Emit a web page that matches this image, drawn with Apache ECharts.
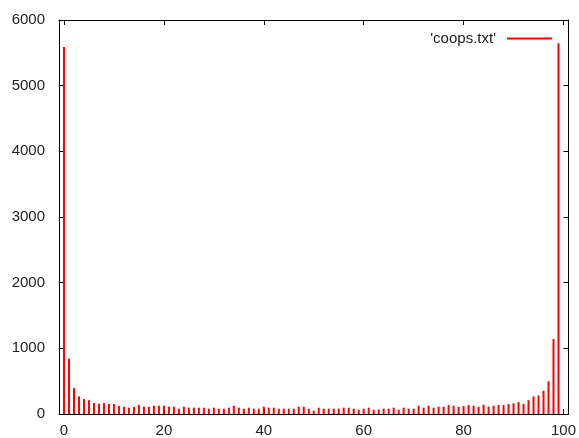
<!DOCTYPE html>
<html>
<head>
<meta charset="utf-8">
<script src="https://cdn.jsdelivr.net/npm/echarts@6/dist/echarts.min.js"></script>
<style>
html,body{margin:0;padding:0;background:#fff;}
#chart{width:579px;height:438px;}
</style>
</head>
<body>
<div id="chart"></div>
<script>
// Data (x = 0..99)
const xValues = Array.from({length: 100}, (_, i) => i);
const counts = [
  5590, 843, 394, 268, 227, 210, 167, 155, 167, 152,
  152, 124, 111, 96, 108, 138, 111, 108, 126, 126,
  126, 111, 111, 81, 111, 96, 96, 96, 96, 81,
  96, 81, 81, 96, 126, 96, 81, 96, 81, 81,
  111, 96, 96, 81, 81, 81, 81, 111, 111, 81,
  51, 96, 81, 81, 81, 81, 96, 96, 81, 66,
  81, 96, 66, 66, 81, 81, 96, 66, 96, 81,
  81, 126, 96, 126, 96, 111, 111, 136, 126, 111,
  121, 136, 126, 111, 141, 111, 126, 136, 136, 152,
  162, 182, 152, 210, 268, 283, 355, 498, 1141, 5646
];
const xTicks = [0, 20, 40, 60, 80, 100];
const seriesName = "'coops.txt'";

const chart = echarts.init(document.getElementById('chart'), null, {renderer: 'canvas'});
const font = 'Liberation Sans, Arial, sans-serif';
const axisLine = {show: true, onZero: false, lineStyle: {color: '#000', width: 1}};
const tickStyle = () => ({show: true, inside: true, length: 5, lineStyle: {color: '#000', width: 1}});

chart.setOption({
  animation: false,
  backgroundColor: '#fff',
  grid: {left: 59, right: 9, top: 20, bottom: 22, containLabel: false},
  legend: {
    show: true,
    right: 22,
    top: 26,
    align: 'right',
    itemWidth: 45,
    itemHeight: 2,
    icon: 'rect',
    data: [{name: seriesName}],
    textStyle: {fontFamily: font, fontSize: 15, color: '#222', padding: [0, 6, 0, 0]}
  },
  xAxis: [
    {
      type: 'value', position: 'bottom', min: -1, max: 101,
      axisLine: axisLine,
      axisTick: Object.assign(tickStyle(), {customValues: xTicks}),
      axisLabel: {customValues: xTicks, margin: 9, fontFamily: font, fontSize: 15, color: '#222'},
      splitLine: {show: false}
    },
    {
      type: 'value', position: 'top', min: -1, max: 101,
      axisLine: axisLine,
      axisTick: Object.assign(tickStyle(), {customValues: xTicks}),
      axisLabel: {show: false, customValues: xTicks},
      splitLine: {show: false}
    }
  ],
  yAxis: [
    {
      type: 'value', position: 'left', min: 0, max: 6000, interval: 1000,
      axisLine: axisLine,
      axisTick: tickStyle(),
      axisLabel: {margin: 14, fontFamily: font, fontSize: 15, color: '#222', formatter: v => String(v)},
      splitLine: {show: false}
    },
    {
      type: 'value', position: 'right', min: 0, max: 6000, interval: 1000,
      axisLine: axisLine,
      axisTick: tickStyle(),
      axisLabel: {show: false},
      splitLine: {show: false}
    }
  ],
  series: [
    {
      name: seriesName,
      type: 'bar',
      xAxisIndex: 0,
      yAxisIndex: 0,
      barWidth: 2,
      itemStyle: {color: '#ff0000'},
      data: xValues.map((x, i) => [x, counts[i]])
    }
  ]
});
</script>
</body>
</html>
